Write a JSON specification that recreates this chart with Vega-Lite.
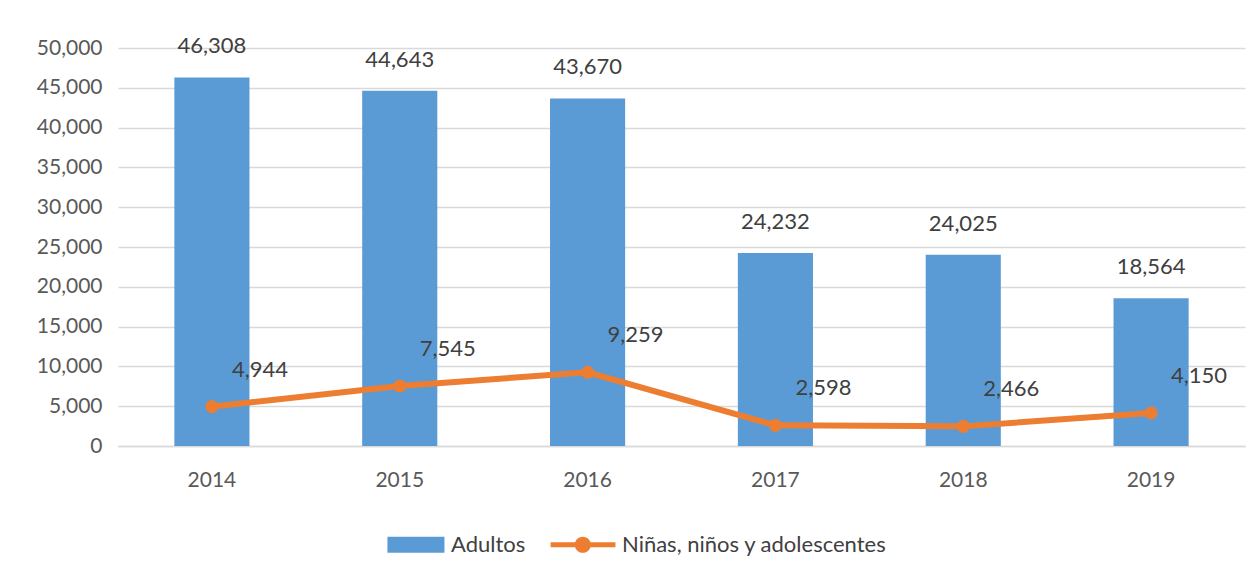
{
  "$schema": "https://vega.github.io/schema/vega-lite/v6.json",
  "width": 1127,
  "height": 398,
  "autosize": {"type": "none"},
  "padding": {"left": 118, "top": 48, "right": 10, "bottom": 134},
  "background": "white",
  "config": {
    "font": "Lato",
    "view": {"stroke": null},
    "axis": {"labelFont": "Lato", "labelFontSize": 21, "labelColor": "#595959", "title": null}
  },
  "data": {
    "values": [
      {"anio": "2014", "serie": "Adultos", "valor": 46308},
      {"anio": "2015", "serie": "Adultos", "valor": 44643},
      {"anio": "2016", "serie": "Adultos", "valor": 43670},
      {"anio": "2017", "serie": "Adultos", "valor": 24232},
      {"anio": "2018", "serie": "Adultos", "valor": 24025},
      {"anio": "2019", "serie": "Adultos", "valor": 18564},
      {"anio": "2014", "serie": "Niñas, niños y adolescentes", "valor": 4944},
      {"anio": "2015", "serie": "Niñas, niños y adolescentes", "valor": 7545},
      {"anio": "2016", "serie": "Niñas, niños y adolescentes", "valor": 9259},
      {"anio": "2017", "serie": "Niñas, niños y adolescentes", "valor": 2598},
      {"anio": "2018", "serie": "Niñas, niños y adolescentes", "valor": 2466},
      {"anio": "2019", "serie": "Niñas, niños y adolescentes", "valor": 4150}
    ]
  },
  "encoding": {
    "x": {
      "field": "anio", "type": "nominal",
      "scale": {"paddingInner": 0.6, "paddingOuter": 0.3},
      "axis": {"labelAngle": 0, "ticks": false, "domainColor": "#D9D9D9", "domainWidth": 1.5, "labelPadding": 23}
    },
    "y": {
      "field": "valor", "type": "quantitative",
      "scale": {"domain": [0, 50000], "nice": false},
      "axis": {"values": [0,5000,10000,15000,20000,25000,30000,35000,40000,45000,50000], "format": ",d", "domain": false, "ticks": false, "labelPadding": 16, "gridColor": "#D9D9D9", "gridWidth": 1.5}
    }
  },
  "layer": [
    {
      "transform": [{"filter": "datum.serie === 'Adultos'"}],
      "mark": {"type": "bar", "color": "#5B9BD5"},
      "encoding": {
        "color": {
          "field": "serie", "type": "nominal",
          "scale": {"domain": ["Adultos", "Niñas, niños y adolescentes"], "range": ["#5B9BD5", "#ED7D31"]},
          "legend": {
            "orient": "none",
            "legendX": 306,
            "legendY": 485,
            "direction": "horizontal",
            "title": null,
            "labelFontSize": 22,
            "labelFont": "Lato",
            "labelColor": "#404040",
            "labelLimit": 500,
            "symbolSize": 500,
            "columnPadding": 24,
            "labelOffset": 4,
            "encode": {
              "symbols": {
                "update": {
                  "shape": {"signal": "datum.value === 'Adultos' ? 'M-4.3,-0.72H0.8V0.72H-4.3Z' : 'M-5.0,-0.22H0.8V0.22H-5.0Z M-1.4,0A0.72,0.72 0 1,1 -2.84,0A0.72,0.72 0 1,1 -1.4,0Z'"},
                  "fill": {"signal": "datum.value === 'Adultos' ? '#5B9BD5' : '#ED7D31'"},
                  "strokeWidth": {"value": 0},
                  "opacity": {"value": 1}
                }
              }
            }
          }
        }
      }
    },
    {
      "transform": [{"filter": "datum.serie === 'Adultos'"}],
      "mark": {"type": "text", "fontSize": 22, "font": "Lato", "color": "#404040", "baseline": "bottom", "dy": -19},
      "encoding": {"text": {"field": "valor", "type": "quantitative", "format": ",d"}}
    },
    {
      "transform": [{"filter": "datum.serie !== 'Adultos'"}],
      "mark": {"type": "line", "color": "#ED7D31", "strokeWidth": 6},
      "encoding": {}
    },
    {
      "transform": [{"filter": "datum.serie !== 'Adultos'"}],
      "mark": {"type": "point", "filled": true, "color": "#ED7D31", "size": 170, "opacity": 1},
      "encoding": {}
    },
    {
      "transform": [{"filter": "datum.serie !== 'Adultos'"}],
      "mark": {"type": "text", "fontSize": 22, "font": "Lato", "color": "#404040", "baseline": "middle", "align": "center", "dx": 48, "dy": -37},
      "encoding": {"text": {"field": "valor", "type": "quantitative", "format": ",d"}}
    }
  ]
}
